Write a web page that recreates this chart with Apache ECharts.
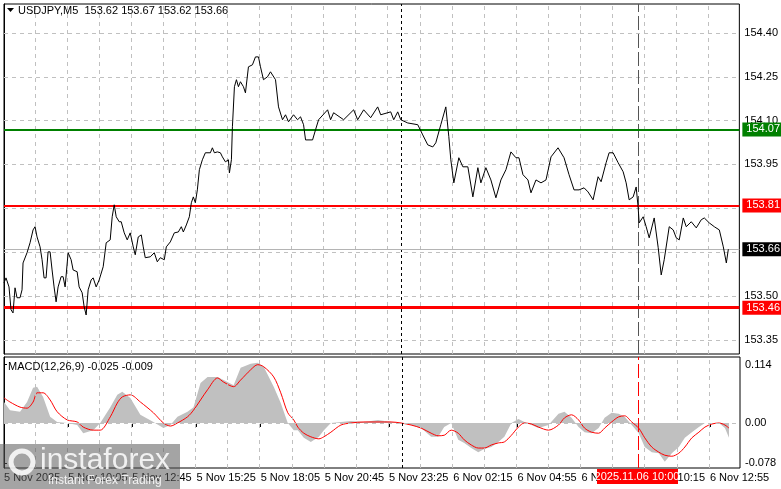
<!DOCTYPE html>
<html><head><meta charset="utf-8">
<script src="https://cdn.jsdelivr.net/npm/echarts@6/dist/echarts.min.js"></script>
<style>html,body{margin:0;padding:0;background:#fff}#c{width:781px;height:489px}</style>
</head><body><div id="c"></div>
<script>
// time index in half-bar units (2.5 min each)
const priceT = [0,2,5,7,9,11,13,16,18,19,23,26,29,31,33,36,38,40,42,44,46,48,50,52,54,57,59,61,64,67,69,73,75,78,80,82,84,87,89,92,95,99,102,106,108,110,112,115,117,120,123,126,129,131,134,137,139,141,146,150,153,156,160,162,166,170,174,177,179,182,185,187,189,191,193,195,198,201,206,208,210,213,216,218,221,224,225,227,228,230,232,234,236,239,241,244,248,251,254,256,259,263,266,271,274,278,281,284,289,293,296,299,301,308,311,314,323,326,329,339,349,353,359,366,373,376,386,389,393,396,403,413,418,423,428,431,436,441,444,446,449,454,458,463,468,473,476,481,486,491,496,501,506,511,514,518,523,526,531,536,541,546,553,559,564,569,574,579,583,588,593,596,601,604,608,613,618,621,624,628,631,633,634,638,641,644,649,653,656,659,664,668,671,674,678,681,686,691,696,699,704,709,714,718,721,723];
const price = [153.545,153.562,153.531,153.453,153.442,153.528,153.494,153.494,153.521,153.613,153.648,153.682,153.726,153.737,153.702,153.668,153.624,153.562,153.562,153.651,153.651,153.589,153.531,153.480,153.531,153.566,153.566,153.531,153.648,153.624,153.589,153.583,153.531,153.511,153.463,153.435,153.521,153.555,153.562,153.531,153.555,153.600,153.682,153.692,153.771,153.812,153.771,153.754,153.754,153.716,153.692,153.716,153.668,153.641,153.702,153.709,153.668,153.631,153.634,153.648,153.617,153.631,153.624,153.668,153.685,153.716,153.719,153.737,153.719,153.743,153.771,153.819,153.839,153.819,153.863,153.932,153.966,153.990,153.990,154.007,153.990,153.993,153.990,153.976,153.959,153.966,153.921,153.966,154.079,154.216,154.240,154.216,154.233,154.216,154.195,154.284,154.291,154.318,154.318,154.284,154.240,154.250,154.267,154.240,154.147,154.103,154.120,154.096,154.120,154.103,154.113,154.086,154.034,154.034,154.069,154.103,154.137,154.103,154.127,154.103,154.137,154.103,154.137,154.110,154.147,154.120,154.130,154.103,154.130,154.103,154.092,154.086,154.051,154.017,154.010,154.024,154.086,154.147,154.045,153.966,153.887,153.973,153.942,153.942,153.839,153.939,153.887,153.939,153.897,153.836,153.897,153.932,153.993,153.973,153.973,153.915,153.897,153.853,153.897,153.887,153.897,153.976,154.007,153.973,153.915,153.863,153.863,153.870,153.856,153.829,153.908,153.891,153.956,153.990,153.990,153.956,153.925,153.887,153.829,153.839,153.873,153.802,153.750,153.771,153.737,153.699,153.767,153.665,153.572,153.624,153.737,153.726,153.699,153.692,153.767,153.737,153.754,153.733,153.761,153.767,153.750,153.737,153.726,153.668,153.613,153.660];
const macdT = [0,6,16,23,29,33,39,46,53,63,73,79,89,96,106,113,118,126,136,149,159,166,173,183,189,196,203,213,219,229,236,246,253,259,269,276,283,289,293,299,306,314,319,326,336,346,359,373,386,396,406,416,426,433,439,446,453,459,466,473,479,486,493,499,506,513,519,526,533,543,553,559,566,573,579,586,593,599,606,613,619,626,633,639,646,653,659,666,673,679,686,693,699,706,713,719,723];
const macdHist = [.041,.025,.022,.041,.069,.071,.051,.012,.002,0,-.004,-.020,-.014,0,.031,.055,.061,.049,.016,.002,-.010,-.004,.012,.022,.031,.078,.090,.090,.084,.074,.108,.116,.118,.110,.071,.039,0,-.014,-.014,-.029,-.037,-.027,-.014,0,.002,.004,.002,.006,.002,0,-.004,-.010,-.027,-.027,-.008,0,-.033,-.039,-.049,-.057,-.051,-.047,-.037,-.027,0,.008,.002,-.004,-.010,-.004,.018,.022,.010,-.008,-.018,-.020,-.010,.010,.020,.018,.012,-.004,-.020,-.047,-.057,-.059,-.076,-.059,-.047,-.029,-.018,-.008,0,0,0,-.010,-.029];
const macdSignal = [.049,.041,.031,.029,.041,.059,.059,.045,.022,.006,.002,-.008,-.014,-.014,.012,.039,.051,.055,.041,.020,0,-.006,0,.012,.025,.045,.065,.088,.080,.071,.084,.104,.114,.110,.090,.059,.020,.006,-.008,-.020,-.027,-.031,-.027,-.018,-.004,0,.002,.002,.002,0,-.004,-.010,-.020,-.025,-.024,-.014,-.020,-.033,-.043,-.049,-.049,-.043,-.039,-.037,-.024,-.008,0,-.002,-.008,-.014,-.004,.010,.016,.006,-.010,-.018,-.020,-.010,.002,.012,.014,.002,-.010,-.029,-.047,-.057,-.063,-.065,-.059,-.047,-.029,-.018,-.008,-.002,0,-.004,-.010];
const priceTicks = [153.35,153.50,153.65,153.80,153.95,154.10,154.25,154.40];
const macdTicks = [0.114,0,-0.078];
const timeLabels = ["5 Nov 2025","5 Nov 10:05","5 Nov 12:45","5 Nov 15:25","5 Nov 18:05","5 Nov 20:45","5 Nov 23:25","6 Nov 02:15","6 Nov 04:55","6 Nov 07:35","6 Nov 10:15","6 Nov 12:55"];
const vGrid = [31,63,95,127,159,191,223,255,287,319,351,383,415,447,479,511,543,575,607,639,671,703];
const levels = [{v:154.07,c:'#008000'},{v:153.81,c:'#ff0000'},{v:153.46,c:'#ff0000'}];
const lastPrice = 153.66;
const dayLine = 397, eventLine = 633;
const eventLabel = "2025.11.06 10:00";
const header = "USDJPY,M5  153.62 153.67 153.62 153.66";
const macdHeader = "MACD(12,26,9) -0.025 -0.009";

const F = 'Liberation Sans, Arial, sans-serif';
const dash = {type:[4,4],color:'#c0c0c0',width:1};
const chart = echarts.init(document.getElementById('c'));
const vlines = vGrid.map(v=>({xAxis:v,lineStyle:dash}));
const lab = (c,fg)=>({show:true,position:'end',distance:3,color:fg||'#fff',backgroundColor:c,padding:[2,4,1,4],fontFamily:F,fontSize:11});
chart.setOption({
  animation:false,
  grid:[{left:4,right:41,top:4,height:350,show:true,borderColor:'#000',borderWidth:1},
        {left:4,right:41,top:357,height:111,show:true,borderColor:'#000',borderWidth:1}],
  xAxis:[{gridIndex:0,type:'value',min:0,max:734,axisLine:{show:false},axisTick:{show:false},axisLabel:{show:false},splitLine:{show:false}},
         {gridIndex:1,type:'value',min:0,max:734,interval:64,axisLine:{show:false},axisTick:{show:true,length:4,lineStyle:{color:'#000'}},splitLine:{show:false},
          axisLabel:{color:'#000',fontFamily:F,fontSize:11,align:'left',margin:4,showMaxLabel:false,formatter:v=>timeLabels[Math.round(v/64)]||''}}],
  yAxis:[{gridIndex:0,type:'value',position:'right',min:153.3015,max:154.499,splitLine:{show:false},
          axisLine:{show:true,lineStyle:{color:'#000'}},axisTick:{show:true,length:3,customValues:priceTicks,lineStyle:{color:'#000'}},
          axisLabel:{customValues:priceTicks,color:'#000',fontFamily:F,fontSize:11,margin:5,formatter:v=>v.toFixed(2)}},
         {gridIndex:1,type:'value',position:'right',min:-0.088,max:0.129,splitLine:{show:false},
          axisLine:{show:true,lineStyle:{color:'#000'}},axisTick:{show:true,length:3,customValues:macdTicks,lineStyle:{color:'#000'}},
          axisLabel:{customValues:macdTicks,color:'#000',fontFamily:F,fontSize:11,margin:5,formatter:v=>v===0?'0.00':v.toFixed(3)}}],
  series:[
    {type:'line',xAxisIndex:0,yAxisIndex:0,data:priceT.map((t,i)=>[t,price[i]]),symbol:'none',lineStyle:{color:'#000',width:1},z:5,
     markLine:{symbol:'none',silent:true,animation:false,label:{show:false},data:[
       ...priceTicks.map(v=>({yAxis:v,lineStyle:dash})),
       ...vlines,
       {xAxis:dayLine,lineStyle:{type:[3,3],color:'#000',width:1}},
       {xAxis:eventLine,lineStyle:{type:[14,4],color:'#555',width:1}},
       {yAxis:lastPrice,lineStyle:{type:'solid',color:'#b4b4b4',width:1},label:Object.assign(lab('#000'),{formatter:lastPrice.toFixed(2)})},
       ...levels.map((l,i)=>({yAxis:l.v,lineStyle:{type:'solid',color:l.c,width:i===2?3:2},label:Object.assign(lab(l.c),{formatter:l.v.toFixed(2)})}))
     ]}},
    {type:'line',xAxisIndex:1,yAxisIndex:1,data:macdT.map((t,i)=>[t,macdHist[i]]),symbol:'none',lineStyle:{width:0,color:'#c0c0c0'},areaStyle:{color:'#c0c0c0',opacity:1,origin:0},z:2,
     markLine:{symbol:'none',silent:true,animation:false,label:{show:false},data:[
       {yAxis:0,lineStyle:dash},...vlines,
       {xAxis:dayLine,lineStyle:{type:[3,3],color:'#000',width:1}},
       {xAxis:eventLine,lineStyle:{type:[14,4],color:'#ff0000',width:1}}]}},
    {type:'line',xAxisIndex:1,yAxisIndex:1,data:macdT.map((t,i)=>[t,macdSignal[i]]),symbol:'none',smooth:0.3,lineStyle:{color:'#ff0000',width:1},z:4}
  ],
  graphic:{elements:[
    {type:'polygon',z:100,shape:{points:[[7,8],[14,8],[10.5,12]]},style:{fill:'#000'}},
    {type:'text',z:100,left:18,top:5,style:{text:header,fill:'#000',font:'11px '+F}},
    {type:'text',z:100,left:8,top:361,style:{text:macdHeader,fill:'#000',font:'11px '+F}},
    {type:'rect',z:100,shape:{x:597,y:469,width:81,height:15},style:{fill:'#ff0000'}},
    {type:'text',z:101,x:637,y:471,style:{text:eventLabel,fill:'#fff',font:'11px '+F,align:'center'}},
    {type:'rect',z:102,shape:{x:0,y:444,width:180,height:45},style:{fill:'rgba(90,90,90,0.55)'}},
    {type:'circle',z:103,shape:{cx:22,cy:462,r:11},style:{fill:'none',stroke:'rgba(255,255,255,0.85)',lineWidth:5}},
    {type:'text',z:103,x:40,y:446,style:{text:'instaforex',fill:'rgba(255,255,255,0.85)',font:'30px '+F}},
    {type:'text',z:103,x:48,y:475,style:{text:'Instant Forex Trading',fill:'rgba(255,255,255,0.85)',font:'12px '+F}}
  ]}
});
</script></body></html>
